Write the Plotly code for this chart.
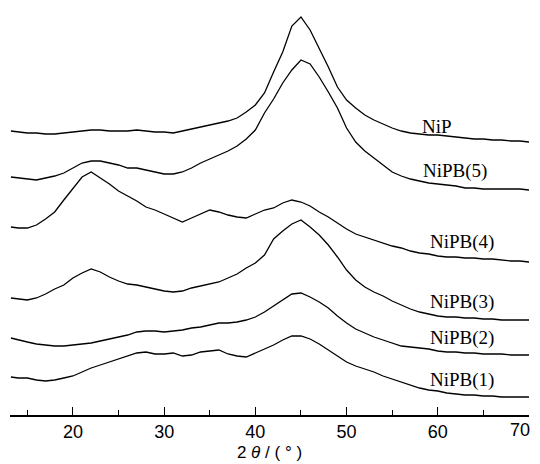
import plotly.graph_objects as go

# 2theta grid (degrees)
two_theta = [13.2] + list(range(14, 71))

series_names = ["NiP", "NiPB(5)", "NiPB(4)", "NiPB(3)", "NiPB(2)", "NiPB(1)"]

# intensities (arbitrary units, vertically offset stacks as in the figure)
nip = [284, 283, 282, 282, 281, 281, 282, 283, 284, 285, 285, 284, 284, 284, 285, 284, 283, 283, 282, 284,
       286, 288, 290, 292, 294, 297, 303, 310, 322, 343, 363, 389, 398, 385, 367, 348, 328, 315, 307, 300,
       295, 291, 287, 284, 282, 281, 280, 280, 279, 278, 277, 276, 276, 275, 275, 274, 274, 273]
nipb5 = [238, 237, 236, 235, 237, 239, 242, 247, 252, 254, 254, 252, 250, 247, 247, 245, 243, 241, 241, 243,
         247, 252, 256, 260, 264, 269, 276, 285, 302, 316, 332, 345, 355, 351, 338, 323, 307, 287, 273, 264,
         257, 250, 243, 239, 236, 234, 232, 231, 230, 229, 227, 227, 226, 226, 226, 226, 226, 225]
nipb4 = [188, 187, 187, 190, 196, 203, 215, 227, 238, 243, 237, 231, 224, 219, 214, 208, 205, 201, 197, 193,
         197, 201, 205, 203, 200, 198, 197, 201, 205, 207, 212, 215, 213, 209, 203, 198, 192, 186, 181, 178,
         175, 172, 169, 167, 164, 162, 161, 159, 158, 158, 157, 157, 156, 156, 155, 154, 154, 153]
nipb3 = [117, 116, 115, 117, 121, 126, 130, 137, 142, 146, 143, 138, 134, 131, 130, 128, 126, 124, 123, 124,
         127, 129, 131, 133, 137, 141, 147, 152, 160, 176, 184, 191, 195, 188, 180, 170, 158, 145, 135, 128,
         123, 119, 114, 110, 106, 103, 101, 99, 98, 98, 97, 97, 96, 96, 95, 95, 95, 95]
nipb2 = [77, 75, 73, 71, 70, 69, 69, 70, 71, 72, 74, 76, 78, 80, 83, 84, 84, 83, 84, 85,
         87, 88, 90, 92, 92, 93, 95, 98, 103, 109, 115, 121, 122, 118, 113, 107, 99, 92, 86, 82,
         78, 75, 72, 69, 68, 67, 66, 64, 63, 63, 62, 62, 61, 61, 61, 60, 60, 60]
nipb1 = [38, 37, 37, 35, 34, 35, 37, 39, 43, 47, 50, 53, 56, 59, 62, 63, 61, 61, 62, 59,
         60, 63, 64, 65, 61, 59, 58, 62, 66, 70, 75, 79, 79, 76, 71, 65, 59, 53, 49, 46,
         43, 39, 36, 33, 30, 27, 25, 24, 22, 21, 20, 20, 19, 19, 18, 18, 18, 18]

series_values = [nip, nipb5, nipb4, nipb3, nipb2, nipb1]

# label anchor positions (x in degrees, y in intensity units)
label_x = [59.9, 61.9, 62.6, 62.6, 62.6, 62.6]
label_y = [289, 244, 173, 113, 77, 35]

major_ticks = [20, 30, 40, 50, 60, 70]
minor_ticks = [15, 25, 35, 45, 55, 65]
# the last label sits pulled in from the frame edge, drawn separately
major_labels = [str(v) for v in major_ticks[:-1]] + [""]
edge_label = str(major_ticks[-1])

fig = go.Figure()
for name, vals in zip(series_names, series_values):
    fig.add_trace(go.Scatter(x=two_theta, y=vals, mode="lines", name=name,
                             line=dict(color="black", width=1.3), showlegend=False))

for name, lx, ly in zip(series_names, label_x, label_y):
    fig.add_annotation(x=lx, y=ly, text=name, showarrow=False,
                       font=dict(family="Liberation Serif", size=19, color="black"))

fig.add_annotation(x=major_ticks[-1], y=0, text=edge_label, showarrow=False,
                   xanchor="right", yanchor="top", xshift=3, yshift=-3,
                   font=dict(family="Liberation Sans", size=18, color="black"))

fig.update_layout(
    width=532, height=456,
    margin=dict(l=2, r=11, t=0, b=49),
    paper_bgcolor="white", plot_bgcolor="white",
    xaxis=dict(range=[13.1, 70], showgrid=False, zeroline=False, automargin=False,
               showline=True, linecolor="black", linewidth=1.5,
               ticks="inside", ticklen=8, tickwidth=1.3, tickcolor="black",
               tickvals=major_ticks, ticktext=major_labels,
               tickfont=dict(family="Liberation Sans", size=18, color="black"),
               minor=dict(ticks="inside", ticklen=5, tickwidth=1.3, tickcolor="black",
                          tickvals=minor_ticks, showgrid=False),
               title=dict(text="2 <i>θ</i> / ( ° )", standoff=5,
                          font=dict(family="Liberation Sans", size=17, color="black"))),
    yaxis=dict(range=[0, 407], visible=False),
)

fig.write_html("out.html")
